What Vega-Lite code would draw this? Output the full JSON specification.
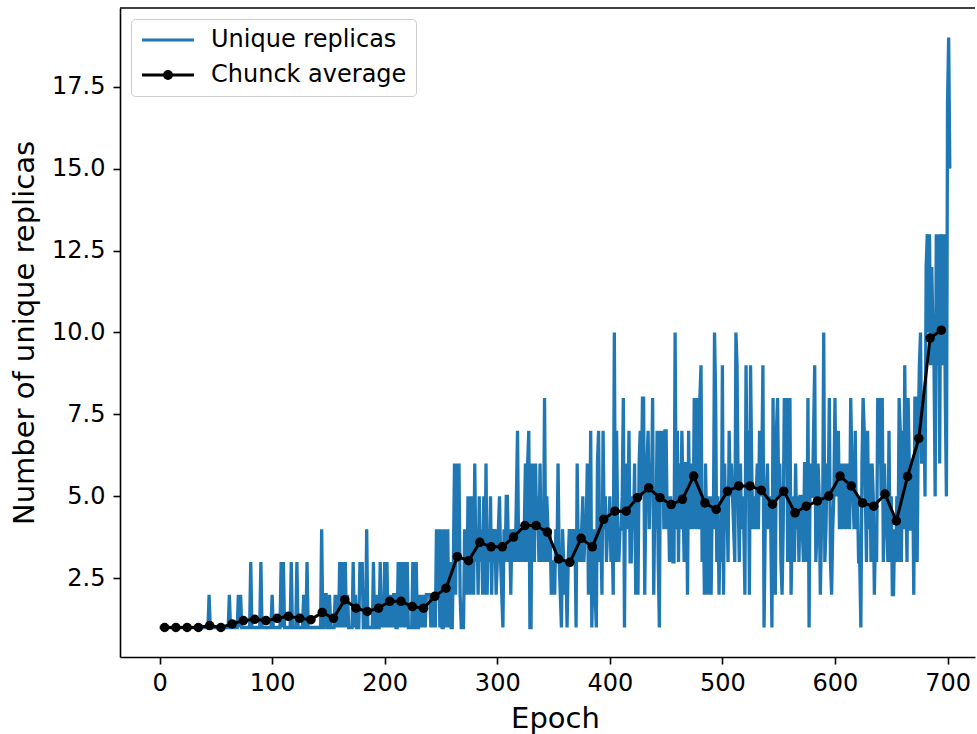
{
"$schema": "https://vega.github.io/schema/vega-lite/v6.json",
"width": 855, "height": 649,
"autosize": {"type": "none"},
"padding": {"left": 120, "top": 8, "right": 2, "bottom": 77},
"background": "white",
"config": {"font": "DejaVu Sans", "view": {"stroke": null}},
"datasets": {
"raw": [
{"e":0,"u":1},{"e":1,"u":1},{"e":2,"u":1},{"e":3,"u":1},{"e":4,"u":1},{"e":5,"u":1},{"e":6,"u":1},{"e":7,"u":1},{"e":8,"u":1},{"e":9,"u":1},
{"e":10,"u":1},{"e":11,"u":1},{"e":12,"u":1},{"e":13,"u":1},{"e":14,"u":1},{"e":15,"u":1},{"e":16,"u":1},{"e":17,"u":1},{"e":18,"u":1},{"e":19,"u":1},
{"e":20,"u":1},{"e":21,"u":1},{"e":22,"u":1},{"e":23,"u":1},{"e":24,"u":1},{"e":25,"u":1},{"e":26,"u":1},{"e":27,"u":1},{"e":28,"u":1},{"e":29,"u":1},
{"e":30,"u":1},{"e":31,"u":1},{"e":32,"u":1},{"e":33,"u":1},{"e":34,"u":1},{"e":35,"u":1},{"e":36,"u":1},{"e":37,"u":1},{"e":38,"u":1},{"e":39,"u":1},
{"e":40,"u":1},{"e":41,"u":1},{"e":42,"u":1},{"e":43,"u":1},{"e":44,"u":2},{"e":45,"u":1},{"e":46,"u":1},{"e":47,"u":1},{"e":48,"u":1},{"e":49,"u":1},
{"e":50,"u":1},{"e":51,"u":1},{"e":52,"u":1},{"e":53,"u":1},{"e":54,"u":1},{"e":55,"u":1},{"e":56,"u":1},{"e":57,"u":1},{"e":58,"u":1},{"e":59,"u":1},
{"e":60,"u":1},{"e":61,"u":1},{"e":62,"u":2},{"e":63,"u":1},{"e":64,"u":1},{"e":65,"u":1},{"e":66,"u":1},{"e":67,"u":1},{"e":68,"u":1},{"e":69,"u":1},
{"e":70,"u":2},{"e":71,"u":1},{"e":72,"u":2},{"e":73,"u":1},{"e":74,"u":1},{"e":75,"u":1},{"e":76,"u":1},{"e":77,"u":1},{"e":78,"u":1},{"e":79,"u":1},
{"e":80,"u":1},{"e":81,"u":3},{"e":82,"u":1},{"e":83,"u":1},{"e":84,"u":1},{"e":85,"u":1},{"e":86,"u":1},{"e":87,"u":1},{"e":88,"u":1},{"e":89,"u":1},
{"e":90,"u":3},{"e":91,"u":1},{"e":92,"u":1},{"e":93,"u":1},{"e":94,"u":1},{"e":95,"u":1},{"e":96,"u":1},{"e":97,"u":1},{"e":98,"u":1},{"e":99,"u":1},
{"e":100,"u":2},{"e":101,"u":1},{"e":102,"u":1},{"e":103,"u":1},{"e":104,"u":1},{"e":105,"u":1},{"e":106,"u":1},{"e":107,"u":1},{"e":108,"u":3},{"e":109,"u":1},
{"e":110,"u":3},{"e":111,"u":1},{"e":112,"u":1},{"e":113,"u":1},{"e":114,"u":1},{"e":115,"u":1},{"e":116,"u":1},{"e":117,"u":3},{"e":118,"u":1},{"e":119,"u":1},
{"e":120,"u":1},{"e":121,"u":1},{"e":122,"u":3},{"e":123,"u":1},{"e":124,"u":1},{"e":125,"u":1},{"e":126,"u":1},{"e":127,"u":1},{"e":128,"u":2},{"e":129,"u":1},
{"e":130,"u":1},{"e":131,"u":3},{"e":132,"u":1},{"e":133,"u":1},{"e":134,"u":1},{"e":135,"u":1},{"e":136,"u":1},{"e":137,"u":1},{"e":138,"u":1},{"e":139,"u":1},
{"e":140,"u":1},{"e":141,"u":1},{"e":142,"u":1},{"e":143,"u":1},{"e":144,"u":4},{"e":145,"u":1},{"e":146,"u":1},{"e":147,"u":2},{"e":148,"u":2},{"e":149,"u":1},
{"e":150,"u":1},{"e":151,"u":2},{"e":152,"u":1},{"e":153,"u":1},{"e":154,"u":1},{"e":155,"u":1},{"e":156,"u":2},{"e":157,"u":1},{"e":158,"u":2},{"e":159,"u":1},
{"e":160,"u":3},{"e":161,"u":1},{"e":162,"u":3},{"e":163,"u":2},{"e":164,"u":1},{"e":165,"u":3},{"e":166,"u":1},{"e":167,"u":2},{"e":168,"u":1},{"e":169,"u":1},
{"e":170,"u":1},{"e":171,"u":1},{"e":172,"u":3},{"e":173,"u":1},{"e":174,"u":2},{"e":175,"u":1},{"e":176,"u":1},{"e":177,"u":1},{"e":178,"u":3},{"e":179,"u":2},
{"e":180,"u":3},{"e":181,"u":1},{"e":182,"u":1},{"e":183,"u":1},{"e":184,"u":4},{"e":185,"u":1},{"e":186,"u":1},{"e":187,"u":1},{"e":188,"u":1},{"e":189,"u":1},
{"e":190,"u":3},{"e":191,"u":1},{"e":192,"u":1},{"e":193,"u":2},{"e":194,"u":1},{"e":195,"u":1},{"e":196,"u":3},{"e":197,"u":1},{"e":198,"u":2},{"e":199,"u":1},
{"e":200,"u":3},{"e":201,"u":1},{"e":202,"u":3},{"e":203,"u":1},{"e":204,"u":2},{"e":205,"u":1},{"e":206,"u":2},{"e":207,"u":1},{"e":208,"u":2},{"e":209,"u":2},
{"e":210,"u":1},{"e":211,"u":1},{"e":212,"u":3},{"e":213,"u":1},{"e":214,"u":3},{"e":215,"u":2},{"e":216,"u":1},{"e":217,"u":3},{"e":218,"u":1},{"e":219,"u":2},
{"e":220,"u":3},{"e":221,"u":1},{"e":222,"u":1},{"e":223,"u":1},{"e":224,"u":1},{"e":225,"u":3},{"e":226,"u":1},{"e":227,"u":1},{"e":228,"u":3},{"e":229,"u":1},
{"e":230,"u":1},{"e":231,"u":2},{"e":232,"u":1},{"e":233,"u":2},{"e":234,"u":1},{"e":235,"u":2},{"e":236,"u":1},{"e":237,"u":2},{"e":238,"u":2},{"e":239,"u":2},
{"e":240,"u":2},{"e":241,"u":1},{"e":242,"u":2},{"e":243,"u":1},{"e":244,"u":2},{"e":245,"u":1},{"e":246,"u":4},{"e":247,"u":2},{"e":248,"u":4},{"e":249,"u":1},
{"e":250,"u":4},{"e":251,"u":1},{"e":252,"u":1},{"e":253,"u":4},{"e":254,"u":1},{"e":255,"u":2},{"e":256,"u":4},{"e":257,"u":1},{"e":258,"u":3},{"e":259,"u":1},
{"e":260,"u":1},{"e":261,"u":3},{"e":262,"u":6},{"e":263,"u":2},{"e":264,"u":6},{"e":265,"u":3},{"e":266,"u":6},{"e":267,"u":2},{"e":268,"u":1},{"e":269,"u":1},
{"e":270,"u":1},{"e":271,"u":4},{"e":272,"u":3},{"e":273,"u":2},{"e":274,"u":5},{"e":275,"u":3},{"e":276,"u":2},{"e":277,"u":5},{"e":278,"u":3},{"e":279,"u":2},
{"e":280,"u":6},{"e":281,"u":3},{"e":282,"u":4},{"e":283,"u":2},{"e":284,"u":5},{"e":285,"u":3},{"e":286,"u":4},{"e":287,"u":2},{"e":288,"u":5},{"e":289,"u":2},
{"e":290,"u":6},{"e":291,"u":2},{"e":292,"u":4},{"e":293,"u":3},{"e":294,"u":5},{"e":295,"u":2},{"e":296,"u":4},{"e":297,"u":3},{"e":298,"u":4},{"e":299,"u":2},
{"e":300,"u":3},{"e":301,"u":4},{"e":302,"u":5},{"e":303,"u":3},{"e":304,"u":2},{"e":305,"u":1},{"e":306,"u":4},{"e":307,"u":3},{"e":308,"u":5},{"e":309,"u":5},
{"e":310,"u":3},{"e":311,"u":4},{"e":312,"u":2},{"e":313,"u":4},{"e":314,"u":3},{"e":315,"u":4},{"e":316,"u":3},{"e":317,"u":5},{"e":318,"u":7},{"e":319,"u":3},
{"e":320,"u":4},{"e":321,"u":3},{"e":322,"u":4},{"e":323,"u":3},{"e":324,"u":4},{"e":325,"u":6},{"e":326,"u":3},{"e":327,"u":6},{"e":328,"u":7},{"e":329,"u":1},
{"e":330,"u":1},{"e":331,"u":6},{"e":332,"u":4},{"e":333,"u":3},{"e":334,"u":6},{"e":335,"u":4},{"e":336,"u":5},{"e":337,"u":3},{"e":338,"u":6},{"e":339,"u":3},
{"e":340,"u":4},{"e":341,"u":3},{"e":342,"u":8},{"e":343,"u":3},{"e":344,"u":5},{"e":345,"u":4},{"e":346,"u":3},{"e":347,"u":4},{"e":348,"u":2},{"e":349,"u":3},
{"e":350,"u":3},{"e":351,"u":2},{"e":352,"u":4},{"e":353,"u":3},{"e":354,"u":6},{"e":355,"u":3},{"e":356,"u":2},{"e":357,"u":1},{"e":358,"u":4},{"e":359,"u":3},
{"e":360,"u":2},{"e":361,"u":3},{"e":362,"u":1},{"e":363,"u":3},{"e":364,"u":4},{"e":365,"u":3},{"e":366,"u":4},{"e":367,"u":3},{"e":368,"u":3},{"e":369,"u":4},
{"e":370,"u":1},{"e":371,"u":6},{"e":372,"u":3},{"e":373,"u":4},{"e":374,"u":3},{"e":375,"u":4},{"e":376,"u":5},{"e":377,"u":3},{"e":378,"u":4},{"e":379,"u":4},
{"e":380,"u":6},{"e":381,"u":2},{"e":382,"u":3},{"e":383,"u":7},{"e":384,"u":1},{"e":385,"u":3},{"e":386,"u":4},{"e":387,"u":2},{"e":388,"u":1},{"e":389,"u":6},
{"e":390,"u":7},{"e":391,"u":3},{"e":392,"u":4},{"e":393,"u":2},{"e":394,"u":7},{"e":395,"u":4},{"e":396,"u":5},{"e":397,"u":3},{"e":398,"u":4},{"e":399,"u":4},
{"e":400,"u":5},{"e":401,"u":3},{"e":402,"u":4},{"e":403,"u":2},{"e":404,"u":10},{"e":405,"u":3},{"e":406,"u":7},{"e":407,"u":4},{"e":408,"u":3},{"e":409,"u":4},
{"e":410,"u":4},{"e":411,"u":5},{"e":412,"u":8},{"e":413,"u":1},{"e":414,"u":6},{"e":415,"u":5},{"e":416,"u":4},{"e":417,"u":7},{"e":418,"u":3},{"e":419,"u":3},
{"e":420,"u":5},{"e":421,"u":4},{"e":422,"u":6},{"e":423,"u":2},{"e":424,"u":5},{"e":425,"u":2},{"e":426,"u":6},{"e":427,"u":7},{"e":428,"u":5},{"e":429,"u":8},
{"e":430,"u":8},{"e":431,"u":2},{"e":432,"u":5},{"e":433,"u":6},{"e":434,"u":7},{"e":435,"u":4},{"e":436,"u":6},{"e":437,"u":5},{"e":438,"u":8},{"e":439,"u":2},
{"e":440,"u":5},{"e":441,"u":4},{"e":442,"u":7},{"e":443,"u":3},{"e":444,"u":1},{"e":445,"u":7},{"e":446,"u":5},{"e":447,"u":7},{"e":448,"u":4},{"e":449,"u":7},
{"e":450,"u":7},{"e":451,"u":4},{"e":452,"u":5},{"e":453,"u":3},{"e":454,"u":5},{"e":455,"u":4},{"e":456,"u":3},{"e":457,"u":3},{"e":458,"u":10},{"e":459,"u":4},
{"e":460,"u":7},{"e":461,"u":3},{"e":462,"u":6},{"e":463,"u":4},{"e":464,"u":7},{"e":465,"u":5},{"e":466,"u":3},{"e":467,"u":6},{"e":468,"u":6},{"e":469,"u":2},
{"e":470,"u":7},{"e":471,"u":4},{"e":472,"u":6},{"e":473,"u":5},{"e":474,"u":4},{"e":475,"u":8},{"e":476,"u":6},{"e":477,"u":4},{"e":478,"u":8},{"e":479,"u":4},
{"e":480,"u":8},{"e":481,"u":9},{"e":482,"u":3},{"e":483,"u":5},{"e":484,"u":2},{"e":485,"u":6},{"e":486,"u":4},{"e":487,"u":2},{"e":488,"u":5},{"e":489,"u":4},
{"e":490,"u":2},{"e":491,"u":5},{"e":492,"u":4},{"e":493,"u":10},{"e":494,"u":8},{"e":495,"u":3},{"e":496,"u":5},{"e":497,"u":2},{"e":498,"u":4},{"e":499,"u":3},
{"e":500,"u":9},{"e":501,"u":2},{"e":502,"u":6},{"e":503,"u":4},{"e":504,"u":5},{"e":505,"u":3},{"e":506,"u":7},{"e":507,"u":5},{"e":508,"u":6},{"e":509,"u":5},
{"e":510,"u":4},{"e":511,"u":3},{"e":512,"u":10},{"e":513,"u":9},{"e":514,"u":5},{"e":515,"u":3},{"e":516,"u":6},{"e":517,"u":4},{"e":518,"u":5},{"e":519,"u":4},
{"e":520,"u":2},{"e":521,"u":9},{"e":522,"u":5},{"e":523,"u":7},{"e":524,"u":2},{"e":525,"u":9},{"e":526,"u":6},{"e":527,"u":4},{"e":528,"u":5},{"e":529,"u":4},
{"e":530,"u":5},{"e":531,"u":6},{"e":532,"u":4},{"e":533,"u":7},{"e":534,"u":5},{"e":535,"u":6},{"e":536,"u":9},{"e":537,"u":1},{"e":538,"u":4},{"e":539,"u":5},
{"e":540,"u":6},{"e":541,"u":4},{"e":542,"u":5},{"e":543,"u":4},{"e":544,"u":1},{"e":545,"u":8},{"e":546,"u":3},{"e":547,"u":2},{"e":548,"u":7},{"e":549,"u":8},
{"e":550,"u":5},{"e":551,"u":6},{"e":552,"u":3},{"e":553,"u":2},{"e":554,"u":4},{"e":555,"u":8},{"e":556,"u":6},{"e":557,"u":8},{"e":558,"u":3},{"e":559,"u":7},
{"e":560,"u":8},{"e":561,"u":2},{"e":562,"u":4},{"e":563,"u":5},{"e":564,"u":3},{"e":565,"u":6},{"e":566,"u":4},{"e":567,"u":5},{"e":568,"u":3},{"e":569,"u":5},
{"e":570,"u":5},{"e":571,"u":4},{"e":572,"u":3},{"e":573,"u":6},{"e":574,"u":6},{"e":575,"u":3},{"e":576,"u":8},{"e":577,"u":1},{"e":578,"u":6},{"e":579,"u":5},
{"e":580,"u":5},{"e":581,"u":7},{"e":582,"u":9},{"e":583,"u":3},{"e":584,"u":4},{"e":585,"u":6},{"e":586,"u":5},{"e":587,"u":2},{"e":588,"u":4},{"e":589,"u":4},
{"e":590,"u":10},{"e":591,"u":3},{"e":592,"u":4},{"e":593,"u":6},{"e":594,"u":5},{"e":595,"u":8},{"e":596,"u":3},{"e":597,"u":2},{"e":598,"u":4},{"e":599,"u":5},
{"e":600,"u":8},{"e":601,"u":5},{"e":602,"u":6},{"e":603,"u":7},{"e":604,"u":4},{"e":605,"u":6},{"e":606,"u":5},{"e":607,"u":4},{"e":608,"u":6},{"e":609,"u":5},
{"e":610,"u":4},{"e":611,"u":6},{"e":612,"u":5},{"e":613,"u":4},{"e":614,"u":8},{"e":615,"u":6},{"e":616,"u":5},{"e":617,"u":4},{"e":618,"u":7},{"e":619,"u":4},
{"e":620,"u":5},{"e":621,"u":3},{"e":622,"u":3},{"e":623,"u":1},{"e":624,"u":6},{"e":625,"u":8},{"e":626,"u":7},{"e":627,"u":5},{"e":628,"u":3},{"e":629,"u":7},
{"e":630,"u":4},{"e":631,"u":6},{"e":632,"u":3},{"e":633,"u":6},{"e":634,"u":5},{"e":635,"u":2},{"e":636,"u":4},{"e":637,"u":3},{"e":638,"u":8},{"e":639,"u":6},
{"e":640,"u":8},{"e":641,"u":5},{"e":642,"u":8},{"e":643,"u":3},{"e":644,"u":6},{"e":645,"u":4},{"e":646,"u":4},{"e":647,"u":3},{"e":648,"u":7},{"e":649,"u":3},
{"e":650,"u":5},{"e":651,"u":2},{"e":652,"u":2},{"e":653,"u":4},{"e":654,"u":3},{"e":655,"u":5},{"e":656,"u":3},{"e":657,"u":8},{"e":658,"u":7},{"e":659,"u":3},
{"e":660,"u":7},{"e":661,"u":4},{"e":662,"u":9},{"e":663,"u":5},{"e":664,"u":3},{"e":665,"u":8},{"e":666,"u":6},{"e":667,"u":4},{"e":668,"u":4},{"e":669,"u":6},
{"e":670,"u":2},{"e":671,"u":8},{"e":672,"u":8},{"e":673,"u":3},{"e":674,"u":7},{"e":675,"u":9},{"e":676,"u":10},{"e":677,"u":6},{"e":678,"u":7},{"e":679,"u":8},
{"e":680,"u":5},{"e":681,"u":12},{"e":682,"u":13},{"e":683,"u":10},{"e":684,"u":13},{"e":685,"u":9},{"e":686,"u":12},{"e":687,"u":10},{"e":688,"u":9},{"e":689,"u":5},
{"e":690,"u":13},{"e":691,"u":9},{"e":692,"u":13},{"e":693,"u":6},{"e":694,"u":13},{"e":695,"u":12},{"e":696,"u":9},{"e":697,"u":13},{"e":698,"u":8},{"e":699,"u":5},
{"e":700,"u":17},{"e":701,"u":19},{"e":702,"u":15}
],
"chunk": [
{"e":4.5,"a":1.0},{"e":14.5,"a":1.0},{"e":24.5,"a":1.0},{"e":34.5,"a":1.0},{"e":44.5,"a":1.06},{"e":54.5,"a":1.0},{"e":64.5,"a":1.11},{"e":74.5,"a":1.21},{"e":84.5,"a":1.25},{"e":94.5,"a":1.21},
{"e":104.5,"a":1.28},{"e":114.5,"a":1.34},{"e":124.5,"a":1.28},{"e":134.5,"a":1.24},{"e":144.5,"a":1.46},{"e":154.5,"a":1.28},{"e":164.5,"a":1.85},{"e":174.5,"a":1.59},{"e":184.5,"a":1.49},{"e":194.5,"a":1.59},
{"e":204.5,"a":1.8},{"e":214.5,"a":1.8},{"e":224.5,"a":1.64},{"e":234.5,"a":1.59},{"e":244.5,"a":1.95},{"e":254.5,"a":2.2},{"e":264.5,"a":3.16},{"e":274.5,"a":3.04},{"e":284.5,"a":3.6},{"e":294.5,"a":3.46},
{"e":304.5,"a":3.46},{"e":314.5,"a":3.76},{"e":324.5,"a":4.11},{"e":334.5,"a":4.11},{"e":344.5,"a":3.91},{"e":354.5,"a":3.09},{"e":364.5,"a":2.99},{"e":374.5,"a":3.72},{"e":384.5,"a":3.46},{"e":394.5,"a":4.3},
{"e":404.5,"a":4.55},{"e":414.5,"a":4.55},{"e":424.5,"a":4.96},{"e":434.5,"a":5.26},{"e":444.5,"a":4.96},{"e":454.5,"a":4.75},{"e":464.5,"a":4.91},{"e":474.5,"a":5.62},{"e":484.5,"a":4.8},{"e":494.5,"a":4.6},
{"e":504.5,"a":5.16},{"e":514.5,"a":5.32},{"e":524.5,"a":5.32},{"e":534.5,"a":5.19},{"e":544.5,"a":4.76},{"e":554.5,"a":5.16},{"e":564.5,"a":4.5},{"e":574.5,"a":4.7},{"e":584.5,"a":4.86},{"e":594.5,"a":5.01},
{"e":604.5,"a":5.62},{"e":614.5,"a":5.32},{"e":624.5,"a":4.8},{"e":634.5,"a":4.7},{"e":644.5,"a":5.07},{"e":654.5,"a":4.25},{"e":664.5,"a":5.61},{"e":674.5,"a":6.77},{"e":684.5,"a":9.83},{"e":694.5,"a":10.07}
],
"frame": [{"top": 19.9}]
},
"layer": [
{
"data": {"name": "raw"},
"mark": {"type": "line", "strokeWidth": 3.3, "clip": true},
"encoding": {
"x": {"field": "e", "type": "quantitative", "title": "Epoch",
"scale": {"domain": [-35.15, 724.4], "nice": false, "zero": false},
"axis": {"values": [0,100,200,300,400,500,600,700], "grid": false, "domain": true, "domainColor": "black", "domainWidth": 1.6, "tickSize": 7, "tickWidth": 1.6, "tickColor": "black", "labelFontSize": 24, "labelFont": "DejaVu Sans", "labelColor": "black", "labelPadding": 7, "titleFontSize": 29, "titleFont": "DejaVu Sans", "titleFontWeight": "normal", "titleColor": "black", "titlePadding": 9, "titleX": 435}},
"y": {"field": "u", "type": "quantitative", "title": "Number of unique replicas",
"scale": {"domain": [0.1, 19.9], "nice": false, "zero": false},
"axis": {"values": [2.5,5,7.5,10,12.5,15,17.5], "format": ".1f", "grid": false, "domain": true, "domainColor": "black", "domainWidth": 1.6, "tickSize": 7, "tickWidth": 1.6, "tickColor": "black", "labelFontSize": 24, "labelFont": "DejaVu Sans", "labelColor": "black", "labelPadding": 8, "titleFontSize": 29, "titleFont": "DejaVu Sans", "titleFontWeight": "normal", "titleColor": "black", "titlePadding": 12}},
"color": {"datum": "Unique replicas",
"scale": {"domain": ["Unique replicas", "Chunck average"], "range": ["#1f77b4", "black"]},
"legend": {"title": null, "orient": "none", "legendX": 11, "legendY": 11, "padding": 9, "rowPadding": 11,
"labelFontSize": 24, "labelFont": "DejaVu Sans", "labelColor": "black", "labelOffset": 47, "labelLimit": 500,
"strokeColor": "#cccccc", "fillColor": "white", "cornerRadius": 4,
"symbolSize": 400, "symbolStrokeWidth": 3,
"encode": {"symbols": {"update": {
"shape": {"signal": "datum.value == 'Chunck average' ? 'M-1,0H4.2M1.95,0A0.35,0.35,0,1,1,1.25,0A0.35,0.35,0,1,1,1.95,0' : 'M-1,0H4.2'"},
"fill": {"signal": "datum.value == 'Chunck average' ? 'black' : 'transparent'"},
"stroke": {"signal": "datum.value == 'Chunck average' ? 'black' : '#1f77b4'"},
"strokeWidth": {"value": 3}
}}}}}
}
},
{
"data": {"name": "chunk"},
"mark": {"type": "line", "strokeWidth": 3, "point": {"filled": true, "size": 90}},
"encoding": {
"x": {"field": "e", "type": "quantitative"},
"y": {"field": "a", "type": "quantitative"},
"color": {"datum": "Chunck average"}
}
},
{
"data": {"name": "frame"},
"mark": {"type": "rule", "color": "black", "strokeWidth": 1.6},
"encoding": {"y": {"field": "top", "type": "quantitative"}}
}
]
}
